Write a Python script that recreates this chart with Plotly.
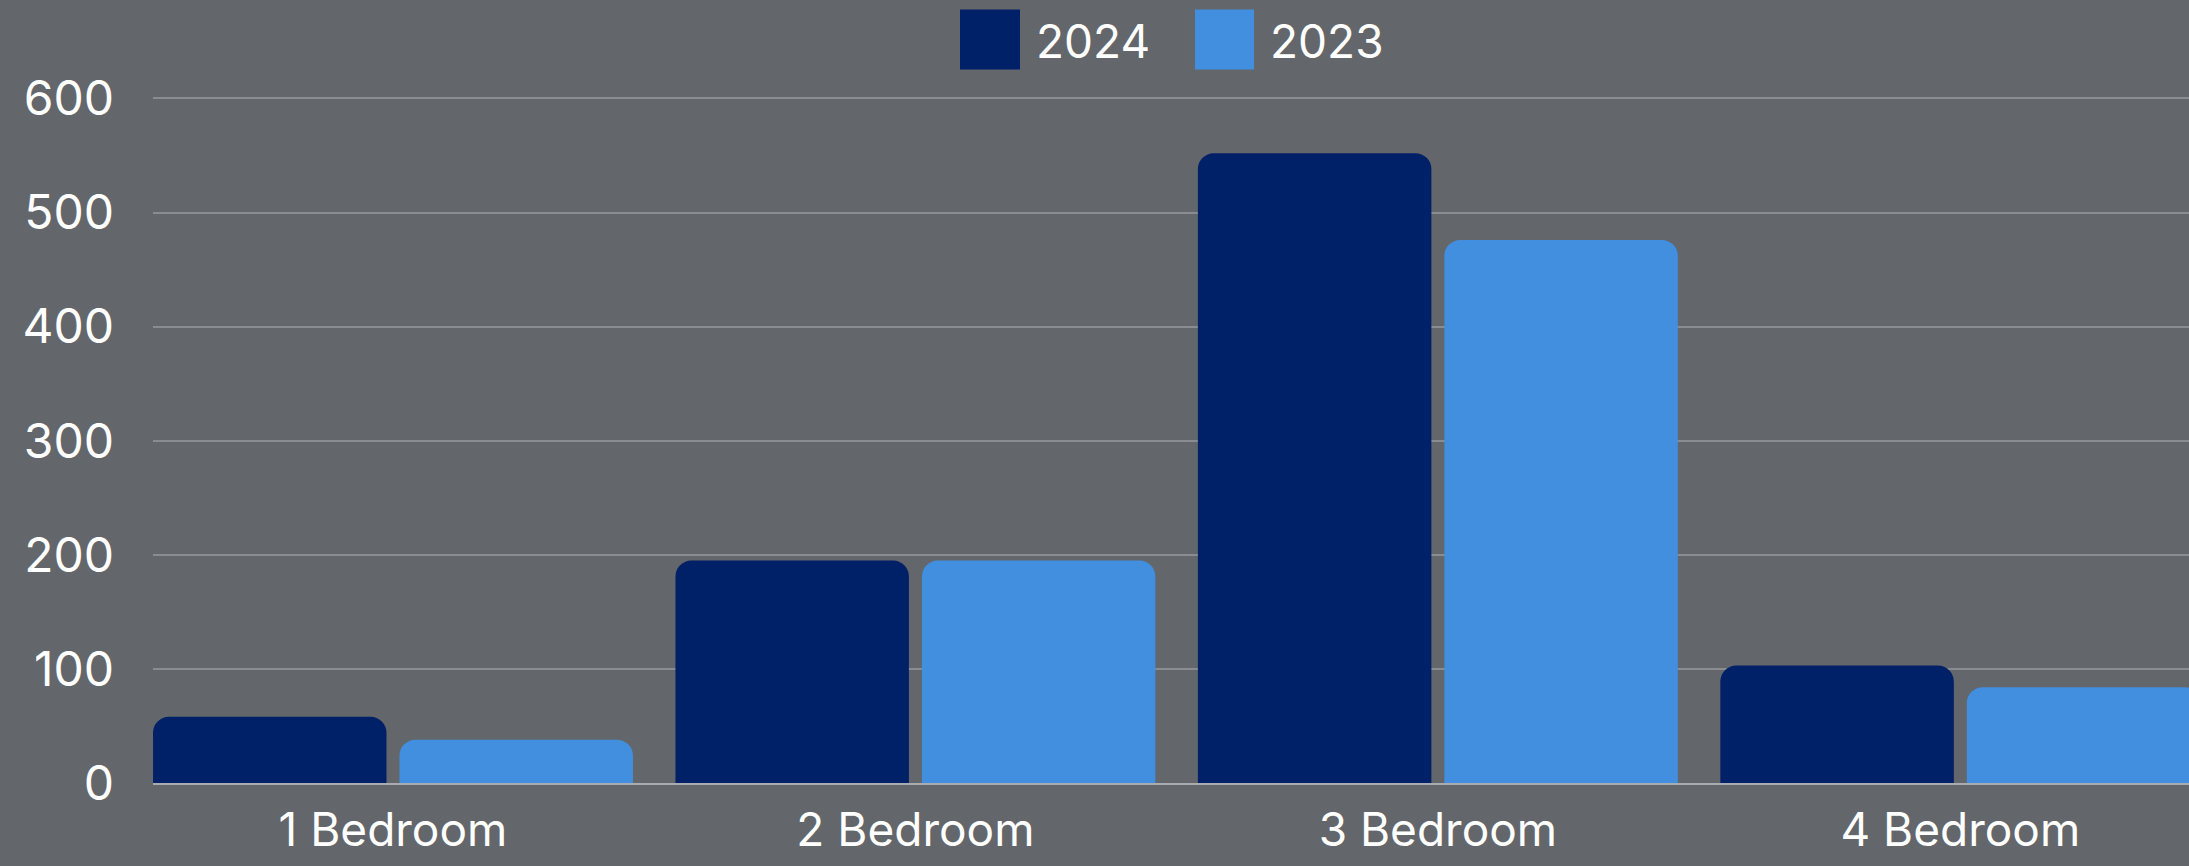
import plotly.graph_objects as go

categories = ["1 Bedroom", "2 Bedroom", "3 Bedroom", "4 Bedroom"]
series_names = ["2024", "2023"]
values_2024 = [58, 195, 552, 103]
values_2023 = [38, 195, 476, 84]
y_ticks = [0, 100, 200, 300, 400, 500, 600]

BG = "#63666A"
NAVY = "#002068"
BLUE = "#418FDE"
FONT = "Inter"

W, H = 2189, 866
ML, MR, MT, MB = 153, 0, 86.5, 82.5

fig = go.Figure()
fig.add_trace(go.Bar(x=categories, y=values_2024, name=series_names[0],
                     marker=dict(color=NAVY, line=dict(width=0)), showlegend=False,
                     hoverinfo="skip"))
fig.add_trace(go.Bar(x=categories, y=values_2023, name=series_names[1],
                     marker=dict(color=BLUE, line=dict(width=0)), showlegend=False,
                     hoverinfo="skip"))

# custom legend: large swatches + text
pw = W - ML - MR
ph = H - MT - MB
def px_x(p):
    return (p - ML) / pw
def px_y(p):
    return (H - MB - p) / ph

swatches = [(960, 1020, NAVY, 1034, series_names[0]), (1195, 1254, BLUE, 1268, series_names[1])]
for x0, x1, col, tx, label in swatches:
    fig.add_shape(type="rect", xref="paper", yref="paper",
                  x0=px_x(x0), x1=px_x(x1), y0=px_y(69), y1=px_y(9),
                  fillcolor=col, line=dict(width=0), layer="above")
    fig.add_annotation(xref="paper", yref="paper", x=px_x(tx), y=px_y(40),
                       xanchor="left", yanchor="middle", text=label, showarrow=False,
                       font=dict(family=FONT, size=46, color="#ffffff"))

fig.update_layout(
    width=W, height=H,
    margin=dict(l=ML, r=MR, t=MT, b=MB, pad=0, autoexpand=False),
    paper_bgcolor=BG, plot_bgcolor=BG,
    barmode="group", bargap=0.0565, bargroupgap=0.0527,
    barcornerradius=16,
    font=dict(family=FONT, size=46, color="#ffffff"),
    showlegend=False,
)
fig.update_xaxes(
    range=[-0.4593, 3.4377], showgrid=False, zeroline=False, automargin=False,
    showline=True, linecolor="#a9abae", linewidth=2, layer="below traces",
    ticks="", ticklabelstandoff=6,
    tickfont=dict(family=FONT, size=46, color="#ffffff"),
)
fig.update_yaxes(
    range=[0, 610], tickvals=y_ticks, showgrid=True, gridcolor="#8a8d90", gridwidth=1.5,
    zeroline=False, showline=False, ticks="", ticklabelstandoff=38, automargin=False,
    tickfont=dict(family=FONT, size=48, color="#ffffff"),
)

fig.write_html("out.html")
